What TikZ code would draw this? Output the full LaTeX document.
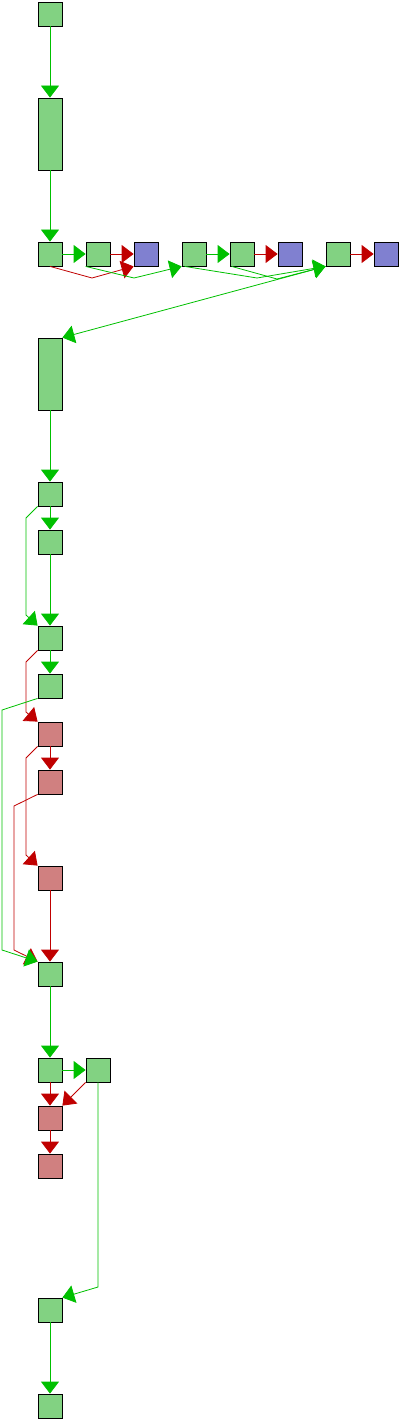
\documentclass[tikz,border=0pt]{standalone}
\usetikzlibrary{arrows}
\usetikzlibrary{arrows.meta}
\definecolor{boxgreen}{RGB}{130,210,130}
\definecolor{boxblue}{RGB}{128,128,208}
\definecolor{boxpink}{RGB}{208,128,128}
\definecolor{edgegreen}{RGB}{0,192,0}
\definecolor{edgered}{RGB}{192,0,0}
\begin{document}
\begin{tikzpicture}[x=1pt,y=-1pt,
  box/.style={draw=black,line width=0.8pt,minimum width=24pt,minimum height=24pt,inner sep=0pt},
  gbox/.style={box,fill=boxgreen},
  gtall/.style={gbox,minimum height=72pt},
  bbox/.style={box,fill=boxblue},
  pbox/.style={box,fill=boxpink},
  ga/.style={edgegreen,line width=0.8pt,-{Triangle[length=12pt,width=18pt]}},
  ra/.style={edgered,line width=0.8pt,-{Triangle[length=12pt,width=18pt]}}]

\useasboundingbox (0,0) rectangle (400,1420);

% top column
\node[gbox] (s0) at (50,14) {};
\node[gtall] (s1) at (50,134) {};

% row
\node[gbox] (a0) at (50,254) {};
\node[gbox] (a1) at (98,254) {};
\node[bbox] (a2) at (146,254) {};
\node[gbox] (a3) at (194,254) {};
\node[gbox] (a4) at (242,254) {};
\node[bbox] (a5) at (290,254) {};
\node[gbox] (a6) at (338,254) {};
\node[bbox] (a7) at (386,254) {};

% lower column
\node[gtall] (s2) at (50,374) {};
\node[gbox] (b0) at (50,494) {};
\node[gbox] (b1) at (50,542) {};
\node[gbox] (b2) at (50,638) {};
\node[gbox] (b3) at (50,686) {};
\node[pbox] (c0) at (50,734) {};
\node[pbox] (c1) at (50,782) {};
\node[pbox] (c2) at (50,878) {};
\node[gbox] (b4) at (50,974) {};
\node[gbox] (b5) at (50,1070) {};
\node[gbox] (b6) at (98,1070) {};
\node[pbox] (c3) at (50,1118) {};
\node[pbox] (c4) at (50,1166) {};
\node[gbox] (b7) at (50,1310) {};
\node[gbox] (b8) at (50,1406) {};

\draw[ga] (s0) -- (s1);
\draw[ga] (s1) -- (a0);
\draw[ga] (a0) -- (a1);
\draw[ra] (a1) -- (a2);
\draw[ra] (a0.south) -- (92,278) -- (a2.south west);
\draw[ga] (a1.south west) -- (134,278) -- (a3.south west);
\draw[ga] (a3) -- (a4);
\draw[ra] (a4) -- (a5);
\draw[ga] ([xshift=3pt]a3.south west) -- (257,278) -- (a6.south west);
\draw[ga] ([xshift=2pt]a4.south west) -- (277,279) -- (a6.south west);
\draw[ra] (a6) -- (a7);
\draw[ga] (a6.south west) -- (s2.north east);

\draw[ga] (s2) -- (b0);
\draw[ga] (b0) -- (b1);
\draw[ga] (b0.south west) -- (26,518) -- (26,615) -- (b2.north west);
\draw[ga] (b1) -- (b2);
\draw[ga] (b2) -- (b3);
\draw[ra] (b2.south west) -- (26,662) -- (26,712) -- (c0.north west);
\draw[ra] (c0) -- (c1);
\draw[ra] (c0.south west) -- (26,758) -- (26,855) -- (c2.north west);
\draw[ra] (c1.south west) -- (14,806) -- (14,950) -- (b4.north west);
\draw[ra] (c2) -- (b4);
\draw[ga] (b3.south west) -- (2,710) -- (2,950) -- (b4.north west);

\draw[ga] (b4) -- (b5);
\draw[ga] (b5) -- (b6);
\draw[ra] (b5) -- (c3);
\draw[ra] (b6.south west) -- (c3.north east);
\draw[ra] (c3) -- (c4);
\draw[ga] (b6.south) -- (98,1287) -- (b7.north east);
\draw[ga] (b7) -- (b8);

\end{tikzpicture}
\end{document}
